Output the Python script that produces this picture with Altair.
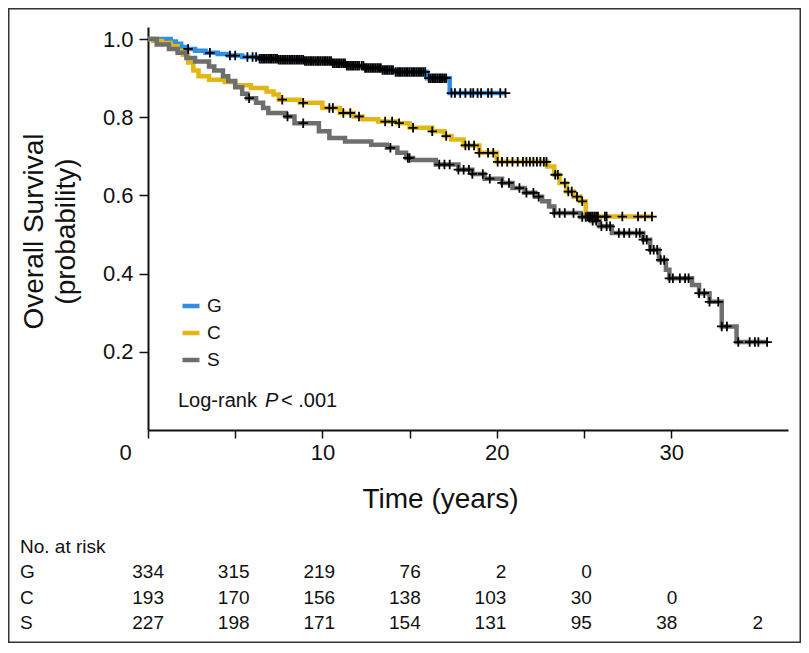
import altair as alt
import pandas as pd

FONT = "Liberation Sans"

groups = ["G", "C", "S"]
colors = ["#2f8fe6", "#e2b714", "#6e6e6e"]

# Kaplan-Meier step points (time in years, survival probability)
g_time = [0, 1.3, 1.6, 1.9, 2.2, 2.7, 3.3, 4.0, 4.6, 5.4, 6.3, 7.5, 9.0, 10.6, 11.4, 12.4, 13.4, 14.1, 16.0, 17.3, 20.5]
g_surv = [1.0, 0.994, 0.988, 0.98, 0.975, 0.97, 0.965, 0.962, 0.958, 0.954, 0.95, 0.947, 0.944, 0.938, 0.932, 0.926, 0.921, 0.916, 0.90, 0.862, 0.862]

c_time = [0, 0.3, 0.8, 1.3, 1.7, 2.0, 2.3, 2.6, 2.9, 3.5, 4.4, 5.0, 5.9, 6.8, 7.2, 7.5, 8.7, 10.0, 11.0, 11.8,
          12.3, 13.2, 14.3, 15.0, 16.3, 17.0, 17.4, 18.1, 19.0, 20.0, 22.9, 23.3, 23.6, 24.0, 24.4, 24.8, 25.1, 28.9]
c_surv = [1.0, 0.995, 0.99, 0.982, 0.97, 0.96, 0.94, 0.92, 0.905, 0.896, 0.89, 0.882, 0.875, 0.866, 0.858, 0.845, 0.837, 0.824, 0.811, 0.802,
          0.795, 0.789, 0.785, 0.773, 0.764, 0.752, 0.743, 0.728, 0.709, 0.686, 0.674, 0.653, 0.632, 0.61, 0.597, 0.585, 0.546, 0.546]

s_time = [0, 0.5, 1.2, 1.7, 2.2, 2.7, 3.5, 3.8, 4.3, 4.6, 5.0, 5.4, 5.7, 6.2, 6.6, 6.9, 7.9, 8.4, 9.8, 10.4,
          11.3, 12.8, 13.7, 14.3, 14.8, 15.2, 16.5, 17.8, 18.6, 19.3, 20.3, 20.9, 21.6, 22.2, 22.6, 23.0, 23.3, 24.8, 25.4, 25.9,
          26.6, 28.4, 28.8, 29.3, 29.7, 29.9, 31.2, 31.6, 32.2, 32.9, 33.75, 35.5]
s_surv = [1.0, 0.986, 0.975, 0.965, 0.952, 0.943, 0.93, 0.92, 0.905, 0.893, 0.877, 0.86, 0.849, 0.837, 0.824, 0.811, 0.802, 0.785, 0.764, 0.747,
          0.738, 0.73, 0.722, 0.709, 0.696, 0.691, 0.679, 0.666, 0.655, 0.643, 0.632, 0.619, 0.607, 0.597, 0.585, 0.572, 0.555, 0.545, 0.535, 0.521,
          0.504, 0.487, 0.461, 0.435, 0.41, 0.388, 0.371, 0.35, 0.328, 0.265, 0.225, 0.225]

# censoring times
g_cens = [2.3, 3.55, 4.7, 5.0, 5.7, 6.0, 6.2, 6.4, 6.5, 6.6, 6.7, 6.8, 6.9, 7.0, 7.1, 7.2, 7.3, 7.4, 7.5, 7.6, 7.7, 7.8, 7.9,
          8.0, 8.1, 8.2, 8.3, 8.4, 8.5, 8.6, 8.7, 8.8, 8.9, 9.0, 9.1, 9.2, 9.3, 9.4, 9.5, 9.6, 9.7, 9.8, 9.9, 10.0, 10.1, 10.2,
          10.3, 10.4, 10.5, 10.6, 10.7, 10.8, 10.9, 11.0, 11.1, 11.2, 11.3, 11.4, 11.5, 11.6, 11.7, 11.8, 11.9, 12.0, 12.1, 12.25,
          12.35, 12.45, 12.55, 12.65, 12.75, 12.85, 12.95, 13.05, 13.15, 13.25, 13.35, 13.45, 13.55, 13.65, 13.75, 13.85, 13.95, 14.05,
          14.2, 14.3, 14.4, 14.5, 14.6, 14.7, 14.8, 14.9, 15.0, 15.1, 15.2, 15.3, 15.4, 15.5, 15.6, 15.7, 15.8, 15.9,
          16.1, 16.2, 16.3, 16.4, 16.5, 16.6, 16.7, 16.8, 16.9, 17.0, 17.1, 17.4, 17.6, 17.9, 18.2, 18.5,
          18.65, 18.9, 19.1, 19.5, 19.7, 20.2, 20.5]
c_cens = [7.7, 8.9, 10.4, 10.6, 11.2, 11.6, 12.1, 13.6, 14.0, 14.4, 15.2, 16.3, 17.1, 18.2, 18.4, 18.7, 19.0, 19.5, 19.8, 20.05,
          20.3, 20.6, 20.9, 21.2, 21.5, 21.7, 21.9, 22.1, 22.3, 22.5, 22.7, 22.85, 23.35, 23.5, 23.9, 24.1, 24.3, 24.6, 24.9, 25.2,
          25.3, 25.4, 25.5, 25.6, 25.7, 25.8, 26.2, 26.3, 27.2, 28.1, 28.5, 28.9]
s_cens = [5.8, 8.0, 8.9, 13.9, 14.9, 15.0, 16.7, 17.0, 17.3, 17.8, 18.1, 18.4, 18.6, 19.2, 19.6, 20.3, 20.7, 21.3, 21.7, 22.1,
          22.4, 23.3, 23.6, 23.9, 24.4, 24.9, 25.1, 25.3, 25.5, 25.7, 26.0, 26.3, 26.5, 27.0, 27.3, 27.6, 28.0, 28.2, 28.4, 28.6,
          28.8, 29.0, 29.2, 29.4, 29.6, 29.9, 30.1, 30.5, 30.8, 31.0, 31.6, 31.9, 32.2, 32.7, 32.9, 33.2, 33.85, 34.5, 34.8, 35.0, 35.5]

# numbers at risk
risk_rows = ["No. at risk", "G", "C", "S"]
risk_times = [0, 5, 10, 15, 20, 25, 30, 35]
risk_G = [334, 315, 219, 76, 2, 0]
risk_C = [193, 170, 156, 138, 103, 30, 0]
risk_S = [227, 198, 171, 154, 131, 95, 38, 2]

x_ticks = [0, 5, 10, 15, 20, 25, 30]
y_ticks = [0.2, 0.4, 0.6, 0.8, 1.0]
logrank_parts = ["Log-rank", "P", "< .001"]

steps = {"G": (g_time, g_surv), "C": (c_time, c_surv), "S": (s_time, s_surv)}
cens = {"G": g_cens, "C": c_cens, "S": s_cens}
risk = {"G": risk_G, "C": risk_C, "S": risk_S}


def surv_at(times, survs, t):
    val = survs[0]
    for tt, ss in zip(times, survs):
        if tt <= t:
            val = ss
    return val


curve_rows = []
for gi, g in enumerate(groups):
    tt, ss = steps[g]
    for i, (a, b) in enumerate(zip(tt, ss)):
        curve_rows.append({"group": g, "gorder": gi, "time": a, "surv": b, "i": i})
curve_df = pd.DataFrame(curve_rows)

cens_rows = []
for g in groups:
    tt, ss = steps[g]
    for t in cens[g]:
        cens_rows.append({"group": g, "time": t, "surv": surv_at(tt, ss, t)})
cens_df = pd.DataFrame(cens_rows)

risk_rows_data = []
for g in groups:
    for t, n in zip(risk_times, risk[g]):
        risk_rows_data.append({"row": g, "time": t, "n": str(n)})
risk_df = pd.DataFrame(risk_rows_data)
risk_label_df = pd.DataFrame({"row": risk_rows})

xscale = alt.Scale(domain=[0, 36.7], nice=False, zero=False)
yscale = alt.Scale(domain=[0, 1.031], nice=False, zero=False)

x_axis = alt.Axis(
    values=x_ticks,
    labelExpr="datum.value % 10 == 0 ? datum.label : ''",
    labelOffset={"condition": {"test": "datum.value == 0", "value": -23}, "value": 0},
    labelFlush=False, labelOverlap=False,
    labelFont=FONT, labelFontSize=22, labelColor="#111", labelPadding=4,
    tickSize=8, tickWidth=1.5, tickColor="#111",
    domainColor="#111", domainWidth=2, grid=False,
    title="Time (years)", titleFont=FONT, titleFontSize=28, titleFontWeight="normal",
    titleColor="#111", titleX=292, titleY=77, titleAlign="center", titleBaseline="alphabetic",
)
y_axis = alt.Axis(
    values=y_ticks, format=".1f",
    labelFont=FONT, labelFontSize=22, labelColor="#111", labelPadding=6,
    tickSize=9, tickWidth=1.5, tickColor="#111",
    domainColor="#111", domainWidth=2, grid=False,
    title=["Overall Survival", "(probability)"], titleFont=FONT, titleFontSize=28,
    titleFontWeight="normal", titleColor="#111", titleLineHeight=32,
    titleX=-106, titleY=204, titleAlign="center", titleBaseline="alphabetic",
)

border = alt.Chart(pd.DataFrame({"a": [0]})).mark_rect(
    fillOpacity=0, stroke="#333", strokeWidth=1.5
).encode(
    x=alt.value(-139.25), x2=alt.value(652.25), y=alt.value(-18.25), y2=alt.value(615.25)
)

lines = alt.Chart(curve_df).mark_line(interpolate="step-after", strokeWidth=4.5).encode(
    x=alt.X("time:Q", scale=xscale, axis=x_axis),
    y=alt.Y("surv:Q", scale=yscale, axis=y_axis),
    color=alt.Color(
        "group:N",
        scale=alt.Scale(domain=groups, range=colors),
        legend=alt.Legend(
            title=None, orient="none", legendX=32, legendY=268, padding=0,
            symbolType="M-1,0H1", symbolSize=289, symbolStrokeWidth=4.5,
            labelFont=FONT, labelFontSize=19, labelColor="#111", labelOffset=5, rowPadding=6,
        ),
    ),
    detail="group:N",
    order="i:Q",
)

censors = alt.Chart(cens_df).mark_point(
    shape="M-1,0H1M0,-1V1", size=90, filled=False, stroke="black", strokeWidth=1.8, opacity=1
).encode(
    x=alt.X("time:Q", scale=xscale),
    y=alt.Y("surv:Q", scale=yscale),
)

lr_df = pd.DataFrame({"txt": logrank_parts})
lr1 = alt.Chart(lr_df).transform_filter(alt.datum.txt == logrank_parts[0]).mark_text(
    font=FONT, fontSize=20, align="left", baseline="middle", color="#111"
).encode(text="txt:N", x=alt.value(30), y=alt.value(374))
lr2 = alt.Chart(lr_df).transform_filter(alt.datum.txt == logrank_parts[1]).mark_text(
    font=FONT, fontSize=20, fontStyle="italic", align="left", baseline="middle", color="#111"
).encode(text="txt:N", x=alt.value(117), y=alt.value(374))
lr3 = alt.Chart(lr_df).transform_filter(alt.datum.txt == logrank_parts[2]).mark_text(
    font=FONT, fontSize=20, align="left", baseline="middle", color="#111"
).encode(text="txt:N", x=alt.value(133), y=alt.value(374))

main = alt.layer(border, lines, censors, lr1, lr2, lr3)

row_scale = alt.Scale(type="point", domain=risk_rows, range=[520, 596], padding=0)
risk_x = alt.Scale(domain=[-0.935, 36.46], nice=False, zero=False)

risk_nums = alt.Chart(risk_df).mark_text(
    font=FONT, fontSize=19, align="right", baseline="middle", color="#111"
).encode(
    x=alt.X("time:Q", scale=risk_x, axis=None),
    y=alt.Y("row:N", scale=row_scale, axis=None),
    text="n:N",
)
risk_labels = alt.Chart(risk_label_df).mark_text(
    font=FONT, fontSize=19, align="left", baseline="middle", color="#111"
).encode(
    x=alt.value(-128),
    y=alt.Y("row:N", scale=row_scale, axis=None),
    text="row:N",
)
risk_layer = alt.layer(risk_nums, risk_labels)

chart = alt.layer(main, risk_layer).resolve_scale(
    x="independent", y="independent"
).properties(
    width=640, height=403,
    padding={"left": 140, "top": 19, "right": 13, "bottom": 213},
    autosize=alt.AutoSizeParams(type="none"),
    background="white",
).configure_view(strokeWidth=0)

chart.save("out.html", embed_options={"renderer": "svg", "actions": False})
